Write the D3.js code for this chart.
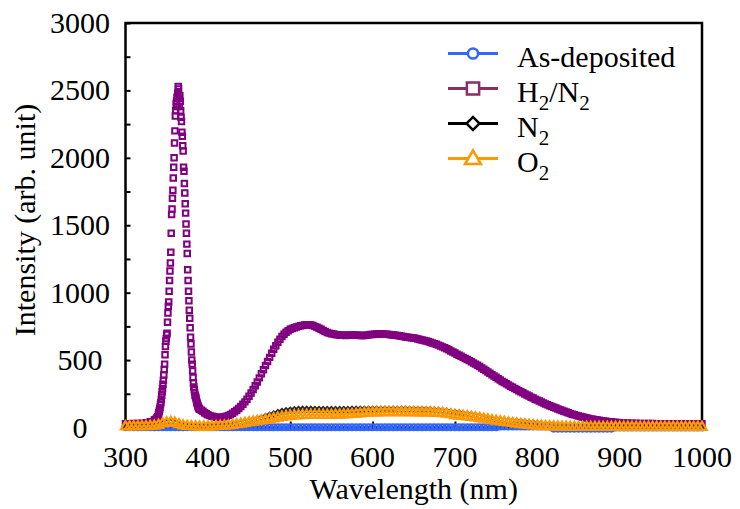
<!DOCTYPE html>
<html>
<head>
<meta charset="utf-8">
<script src="https://cdn.jsdelivr.net/npm/d3@7"></script>
<style>
  html, body { margin: 0; padding: 0; background: #fff; }
  svg { display: block; }
  svg text { font-family: "Liberation Serif", "Tinos", "Times New Roman", "DejaVu Serif", serif; }
</style>
</head>
<body>
<svg id="chart" width="740" height="509"></svg>
<script>
// ---- Photoluminescence spectra (intensity in arb. units) ----

// H2/N2 annealed sample: fine sampling across the UV peak and the slopes of the visible band
const wavelengthH2N2 = [].concat(
  d3.range(300, 336, 5),
  d3.range(336, 340, 1),
  d3.range(340, 390.25, 0.5),
  d3.range(392, 400, 2),
  d3.range(400, 500, 2.5),
  d3.range(500, 900.1, 2.5),
  d3.range(905, 1000.5, 5)
);
const intensityH2N2 = [
  // 300-335
  28, 28, 30, 30, 32, 35, 42, 55,
  // 336-339
  58, 62, 70, 80,
  // 340-390 (UV peak)
  95, 110, 120, 135, 150, 170, 185, 210, 240, 265,
  290, 320, 350, 390, 430, 470, 540, 600, 640, 660,
  690, 700, 780, 850, 900, 930, 1010, 1090, 1160, 1220,
  1300, 1440, 1580, 1620, 1700, 1760, 1850, 1930, 2000, 2110,
  2200, 2310, 2350, 2400, 2420, 2450, 2380, 2480, 2530, 2510,
  2440, 2380, 2460, 2420, 2350, 2300, 2270, 2190, 2160, 2090,
  2050, 1930, 1900, 1810, 1740, 1660, 1590, 1510, 1440, 1360,
  1290, 1170, 1090, 1010, 940, 870, 810, 740, 670, 620,
  560, 500, 470, 420, 370, 330, 300, 280, 260, 240,
  230, 220, 205, 190, 180, 170, 160, 150, 145, 140,
  135,
  // 392-398
  128, 120, 110, 102,
  // 400-497.5
  95, 88, 83, 79, 76, 75, 75, 77, 80, 84,
  90, 97, 106, 116, 128, 141, 156, 172, 190, 210,
  232, 256, 282, 310, 338, 368, 398, 428, 460, 490,
  520, 550, 580, 607, 632, 655, 675, 692, 706, 718,
  // 500-900
  728, 734, 740, 745, 750, 754, 757, 760, 762, 763,
  760, 756, 750, 743, 736, 728, 720, 712, 705, 700,
  696, 693, 690, 688, 686, 685, 684, 683, 684, 686,
  687, 686, 685, 684, 683, 682, 683, 685, 687, 689,
  690, 692, 693, 694, 694, 693, 692, 691, 690, 688,
  686, 684, 682, 680, 677, 675, 672, 670, 668, 666,
  664, 661, 657, 653, 649, 645, 641, 637, 632, 627,
  622, 617, 611, 605, 598, 591, 584, 576, 568, 560,
  552, 544, 536, 528, 520, 512, 504, 496, 487, 479,
  470, 461, 452, 442, 432, 422, 412, 402, 392, 382,
  372, 362, 352, 342, 333, 324, 315, 306, 298, 289,
  281, 273, 265, 257, 249, 241, 233, 225, 218, 210,
  203, 196, 189, 182, 175, 168, 162, 156, 150, 144,
  138, 132, 126, 120, 115, 109, 104, 99, 95, 90,
  86, 82, 78, 74, 71, 67, 64, 61, 58, 55,
  53, 50, 48, 46, 44, 42, 41, 39, 38, 37,
  36,
  // 905-1000
  34, 33, 32, 31, 30, 30, 29, 29, 28, 28,
  28, 28, 27, 27, 27, 27, 27, 27, 27, 27
];

// Other samples share a 5 nm grid
const wavelengthGrid = d3.range(300, 1000.5, 5);

const intensityN2 = [
  8, 8, 9, 9, 10, 10, 12, 14, 20, 30,
  38, 42, 36, 24, 16, 12, 10, 8, 7, 7,
  8, 9, 11, 13, 16, 19, 23, 28, 35, 41,
  48, 55, 62, 70, 80, 90, 100, 110, 118, 124,
  128, 131, 133, 134, 134, 134, 133, 133, 132, 132,
  132, 132, 132, 133, 133, 134, 134, 135, 135, 135,
  135, 135, 135, 135, 135, 135, 134, 134, 134, 133,
  133, 132, 132, 131, 130, 128, 126, 123, 119, 114,
  110, 106, 102, 98, 93, 88, 82, 75, 68, 63,
  59, 55, 52, 49, 46, 44, 41, 38, 35, 32,
  29, 26, 22, 19, 16, 14, 12, 11, 10, 9,
  8, 8, 8, 7, 7, 7, 7, 7, 6, 6,
  6, 6, 6, 6, 6, 6, 5, 5, 5, 5,
  5, 5, 5, 5, 5, 5, 5, 5, 5, 5, 5
];

const intensityO2 = [
  6, 6, 7, 7, 8, 8, 10, 12, 18, 28,
  36, 40, 34, 22, 14, 10, 8, 6, 5, 5,
  5, 6, 8, 10, 12, 14, 18, 22, 27, 32,
  37, 42, 46, 50, 55, 60, 66, 71, 76, 80,
  84, 87, 89, 90, 91, 92, 92, 92, 92, 92,
  92, 93, 94, 95, 96, 98, 100, 103, 106, 108,
  109, 110, 111, 111, 111, 112, 112, 112, 112, 111,
  111, 110, 110, 109, 109, 108, 106, 104, 100, 96,
  90, 86, 83, 80, 77, 73, 68, 63, 58, 53,
  48, 44, 40, 35, 31, 27, 23, 20, 17, 14,
  12, 10, 8, 7, 6, 5, 4, 4, 3, 3,
  3, 3, 3, 3, 3, 3, 3, 3, 3, 3,
  3, 3, 3, 3, 3, 3, 3, 3, 3, 3,
  3, 3, 3, 3, 3, 3, 3, 3, 3, 3, 3
];

const intensityAsDep = [
  2, 2, 2, 2, 2, 2, 2, 2, 2, 2,
  2, 2, 2, 2, 2, 2, 2, 2, 2, 2,
  2, 2, 2, 2, 2, 2, 2, 2, 2, 2,
  2, 2, 2, 2, 2, 2, 2, 2, 2, 2,
  2, 2, 2, 2, 2, 2, 2, 2, 2, 2,
  2, 2, 2, 2, 2, 2, 2, 2, 2, 2,
  2, 2, 2, 2, 2, 2, 2, 2, 2, 2,
  2, 2, 2, 2, 2, 2, 2, 2, 2, 2,
  2, 2, 2, 2, 2, 2, 2, 2, 2, 2,
  2, 8, 8, 8, 8, 8, 8, 8, 8, 8,
  8, 8, 8, 8, -8, -8, -8, -8, -8, -8,
  -8, -8, -8, -8, -8, -8, -8, -8, -8, 0,
  0, 0, 0, 0, 0, 0, 0, 0, 0, 0,
  0, 0, 0, 0, 0, 0, 0, 0, 0, 0, 0
];

const xTicks = [300, 400, 500, 600, 700, 800, 900, 1000];
const yTicks = [0, 500, 1000, 1500, 2000, 2500, 3000];
const yMinorTicks = d3.range(0, 3001, 250);

const seriesNames = ["As-deposited", "H2/N2", "N2", "O2"];

// ---- layout ----
const svg = d3.select("#chart");
const x = d3.scaleLinear().domain([300, 1000]).range([125.5, 702]);
const y = d3.scaleLinear().domain([0, 3000]).range([427.5, 23]);

// frame
svg.append("rect")
  .attr("x", x(300)).attr("y", y(3000))
  .attr("width", x(1000) - x(300)).attr("height", y(0) - y(3000))
  .attr("fill", "none").attr("stroke", "#000").attr("stroke-width", 2.5);

// y axis: inward ticks every 250, labels every 500 centred in the margin
const yAxis = svg.append("g")
  .attr("transform", `translate(${x(300)},0)`)
  .call(d3.axisLeft(y).tickValues(yMinorTicks).tickSize(-5).tickSizeOuter(0).tickFormat(""));
yAxis.select(".domain").remove();
yAxis.selectAll(".tick line").attr("stroke", "#000").attr("stroke-width", 2);

svg.append("g").selectAll("text")
  .data(yTicks).join("text")
  .attr("x", 80).attr("y", d => y(d) + 10)
  .attr("text-anchor", "middle")
  .attr("font-size", 30)
  .text(d => d);

// x axis
const xAxis = svg.append("g")
  .attr("transform", `translate(0,${y(0)})`)
  .call(d3.axisBottom(x).tickValues(xTicks).tickSize(-6).tickSizeOuter(0).tickFormat(""));
xAxis.select(".domain").remove();
xAxis.selectAll(".tick line").attr("stroke", "#000").attr("stroke-width", 2);

svg.append("g").selectAll("text")
  .data(xTicks).join("text")
  .attr("x", d => x(d)).attr("y", 467)
  .attr("text-anchor", "middle")
  .attr("font-size", 30)
  .text(d => d);

// axis titles
svg.append("text")
  .attr("x", (x(300) + x(1000)) / 2).attr("y", 499)
  .attr("text-anchor", "middle").attr("font-size", 30)
  .text("Wavelength (nm)");
svg.append("text")
  .attr("transform", "translate(35,220) rotate(-90)")
  .attr("text-anchor", "middle").attr("font-size", 30)
  .text("Intensity (arb. unit)");

// ---- data: dense hollow markers, drawn back to front ----
const series = [
  { name: seriesNames[0], xs: wavelengthGrid, ys: intensityAsDep, color: "#3366ff",
    symbol: d3.symbolCircle, size: 28, rotate: 0, sw: 2.2 },
  { name: seriesNames[1], xs: wavelengthH2N2, ys: intensityH2N2, color: "#800080",
    symbol: d3.symbolSquare, size: 30, rotate: 0, sw: 2 },
  { name: seriesNames[2], xs: wavelengthGrid, ys: intensityN2, color: "#2a2a2a",
    symbol: d3.symbolSquare, size: 16, rotate: 45, sw: 1.8 },
  { name: seriesNames[3], xs: wavelengthGrid, ys: intensityO2, color: "#ff9900",
    symbol: d3.symbolTriangle, size: 38, rotate: 0, sw: 2.2 }
];

series.forEach(s => {
  const pts = s.xs.map((w, i) => [w, s.ys[i]]);
  const sym = d3.symbol().type(s.symbol).size(s.size);
  svg.append("g").selectAll("path")
    .data(pts).join("path")
    .attr("d", sym)
    .attr("transform", d => `translate(${x(d[0])},${y(d[1])}) rotate(${s.rotate})`)
    .attr("fill", "none").attr("stroke", s.color).attr("stroke-width", s.sw);
});

// ---- legend ----
const legendItems = [
  { label: seriesNames[0], color: "#3366ff", symbol: d3.symbolCircle, size: 80, rotate: 0 },
  { label: seriesNames[1], color: "#8b2d68", symbol: d3.symbolSquare, size: 150, rotate: 0 },
  { label: seriesNames[2], color: "#000", symbol: d3.symbolSquare, size: 85, rotate: 45 },
  { label: seriesNames[3], color: "#ff9900", symbol: d3.symbolTriangle, size: 110, rotate: 0 }
];

const legend = svg.append("g");
legendItems.forEach((it, i) => {
  const ly = 53.5 + i * 35;
  const row = legend.append("g");
  row.append("line")
    .attr("x1", 448).attr("x2", 498).attr("y1", ly).attr("y2", ly)
    .attr("stroke", it.color).attr("stroke-width", 3);
  row.append("path")
    .attr("d", d3.symbol().type(it.symbol).size(it.size))
    .attr("transform", `translate(473,${ly + (it.symbol === d3.symbolTriangle ? 1 : 0)}) rotate(${it.rotate})`)
    .attr("fill", "#fff").attr("stroke", it.color).attr("stroke-width", 2.5);
  const t = row.append("text")
    .attr("x", 517).attr("y", ly + 13)
    .attr("font-size", 30);
  // chemical formulas use subscripted digits
  const parts = it.label.split(/(\d)/).filter(p => p.length);
  let shifted = false;
  parts.forEach(p => {
    const isSub = /^\d$/.test(p);
    const ts = t.append("tspan").text(p);
    if (isSub && !shifted) { ts.attr("dy", 8).attr("font-size", 21); shifted = true; }
    else if (!isSub && shifted) { ts.attr("dy", -8); shifted = false; }
    else if (isSub) { ts.attr("font-size", 21); }
  });
});
</script>
</body>
</html>
